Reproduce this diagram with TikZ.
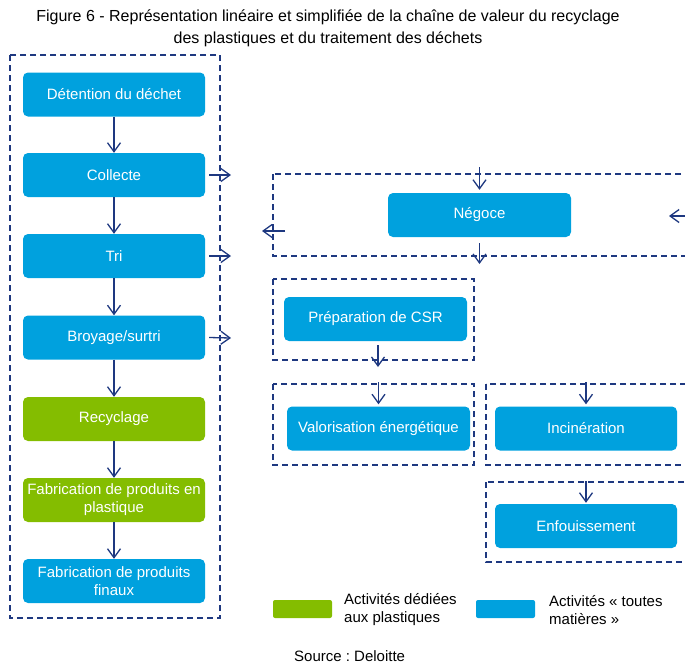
\documentclass[tikz,border=0pt]{standalone}
\usepackage{fontspec}
\setmainfont{Liberation Sans}
\usetikzlibrary{arrows.meta}
\frenchspacing
\definecolor{cblue}{RGB}{0,161,222}
\definecolor{cgreen}{RGB}{132,189,0}
\definecolor{cnavy}{RGB}{30,56,128}
\tikzset{
  boxb/.style={rectangle, rounded corners=5pt, fill=cblue, text=white, minimum width=182pt, minimum height=44pt, inner sep=0pt, align=center, font=\fontsize{15}{18}\selectfont},
  boxg/.style={boxb, fill=cgreen},
  dbox/.style={draw=cnavy, line width=1.8pt, dash pattern=on 6pt off 4pt},
  arr/.style={draw=cnavy, line width=1.3pt, -{Straight Barb[length=9pt,width=13pt,line width=1.3pt]}},
  lbl/.style={font=\fontsize{15}{18}\selectfont, inner sep=0pt, align=left, anchor=west}
}
\begin{document}
\begin{tikzpicture}[x=1pt,y=-1pt]
\useasboundingbox (0,0) rectangle (685,665);
\clip (0,0) rectangle (685,665);
% title
\node[font=\fontsize{16}{22}\selectfont, align=center, inner sep=0pt] (title) at (328,28) {Figure 6 - Représentation linéaire et simplifiée de la chaîne de valeur du recyclage\\des plastiques et du traitement des déchets};
% dashed groups
\draw[dbox] (10,55) rectangle (220,618);
\draw[dbox] (273,174) rectangle (700,256);
\draw[dbox] (273,279) rectangle (474,360);
\draw[dbox] (273,384) rectangle (474,465);
\draw[dbox] (486,384) rectangle (700,465);
\draw[dbox] (486,482) rectangle (700,562);
% left column
\node[boxb] (b1) at (114,94.5) {Détention du déchet};
\node[boxb] (b2) at (114,175) {Collecte};
\node[boxb] (b3) at (114,256) {Tri};
\node[boxb] (b4) at (114,337.5) {Broyage/surtri};
\node[boxg] (b5) at (114,419) {Recyclage};
\node[boxg] (b6) at (114,500) {Fabrication de produits en\\plastique};
\node[boxb] (b7) at (114,581) {Fabrication de produits\\finaux};
% right nodes
\node[boxb, minimum width=183pt] (neg) at (479.5,215) {Négoce};
\node[boxb, minimum width=183pt] (csr) at (375.5,319) {Préparation de CSR};
\node[boxb, minimum width=183pt] (val) at (378.5,428.5) {Valorisation énergétique};
\node[boxb] (inc) at (586,428.5) {Incinération};
\node[boxb] (enf) at (586,526) {Enfouissement};
% left column arrows
\draw[arr] (b1) -- (b2);
\draw[arr] (b2) -- (b3);
\draw[arr] (b3) -- (b4);
\draw[arr] (b4) -- (b5);
\draw[arr] (b5) -- (b6);
\draw[arr] (b6) -- (b7);
% side arrows
\coordinate (s2) at (231,175);
\coordinate (s3) at (231,256);
\coordinate (s4) at (231,338);
\draw[arr] ([xshift=4pt]b2.east) -- (s2);
\draw[arr] ([xshift=4pt]b3.east) -- (s3);
\draw[arr] ([xshift=4pt]b4.east) -- (s4);
% negoce arrows
\coordinate (nin) at (479.5,167);
\coordinate (nout) at (479.5,264);
\coordinate (nl1) at (285,231);
\coordinate (nl2) at (262,231);
\coordinate (nr1) at (700,216);
\coordinate (nr2) at (669,216);
\draw[arr] (nin) -- ([yshift=3pt]neg.north);
\draw[arr] ([yshift=-6pt]neg.south) -- (nout);
\draw[arr] (nl1) -- (nl2);
\draw[arr] (nr1) -- (nr2);
% lower arrows
\coordinate (cout) at (378,367);
\draw[arr] ([xshift=2.5pt,yshift=-4pt]csr.south) -- (cout);
\coordinate (vin) at (378.5,382);
\draw[arr] (vin) -- ([yshift=2pt]val.north);
\coordinate (iin) at (586,382);
\draw[arr] (iin) -- ([yshift=2pt]inc.north);
\coordinate (ein) at (586,481);
\draw[arr] (ein) -- ([yshift=1pt]enf.north);
% legend
\draw[fill=cgreen, draw=none, rounded corners=2pt] (273,600) rectangle (332,618);
\draw[fill=cblue, draw=none, rounded corners=2pt] (476,600) rectangle (535,618);
\node[lbl] (lg1) at (344,610) {Activités dédiées\\aux plastiques};
\node[lbl] (lg2) at (549,610) {Activités «~toutes\\matières~»};
\node[lbl] (src) at (294,656) {Source : Deloitte};
\end{tikzpicture}
\end{document}
